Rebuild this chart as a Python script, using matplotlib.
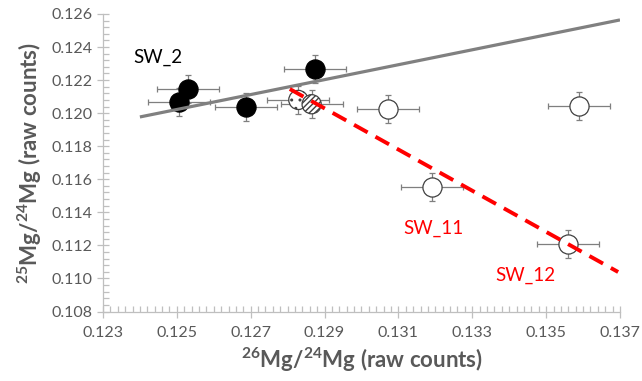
import matplotlib
matplotlib.use("Agg")
import matplotlib.pyplot as plt
from matplotlib.ticker import FixedLocator, MultipleLocator

plt.rcParams["font.family"] = ["Lato", "DejaVu Sans"]
plt.rcParams["mathtext.default"] = "regular"

# Filled samples (SW_2 group)
filled_x = [0.12506, 0.12529, 0.12686, 0.12874]
filled_y = [0.12068, 0.12146, 0.12039, 0.12265]

# Open samples
open_x = [0.13073, 0.13590, 0.13190, 0.13559]
open_y = [0.12023, 0.12043, 0.11551, 0.11208]

# Dotted and hatched samples
dotted_x = [0.12829]
dotted_y = [0.12080]
hatched_x = [0.12865]
hatched_y = [0.12054]

# Uncertainties
x_err = 0.00084
y_err = 0.00085

# Mass-fractionation line and mixing trend
frac_x = [0.12400, 0.13700]
frac_y = [0.11977, 0.12564]
mix_x = [0.12806, 0.13695]
mix_y = [0.12146, 0.11039]

# Sample labels
labels = ["SW_2", "SW_11", "SW_12"]
label_x = [0.12381, 0.13194, 0.13443]
label_y = [0.12340, 0.11305, 0.11021]
label_colors = ["black", "#ff0000", "#ff0000"]
label_ha = ["left", "center", "center"]

# Axis ticks
x_ticks = [0.123, 0.125, 0.127, 0.129, 0.131, 0.133, 0.135, 0.137]
x_ticklabels = ["0.123", "0.125", "0.127", "0.129", "0.131", "0.133", "0.135", "0.137"]
y_ticks = [0.108, 0.110, 0.112, 0.114, 0.116, 0.118, 0.120, 0.122, 0.124, 0.126]
y_ticklabels = ["0.108", "0.110", "0.112", "0.114", "0.116", "0.118", "0.120",
                "0.122", "0.124", "0.126"]

fig = plt.figure(figsize=(6.42, 3.81), dpi=100)
ax = fig.add_axes([0.1604, 0.1824, 0.8053, 0.7809])

err_kw = dict(fmt="none", ecolor="#7f7f7f", elinewidth=0.9, capsize=2.5,
              capthick=0.9, zorder=2)
all_x = filled_x + open_x + dotted_x + hatched_x
all_y = filled_y + open_y + dotted_y + hatched_y
ax.errorbar(all_x, all_y, xerr=x_err, yerr=y_err, **err_kw)

msize = 190
ax.scatter(open_x, open_y, s=msize, facecolor="white", edgecolor="#404040",
           linewidth=0.9, zorder=3)
ax.scatter(dotted_x, dotted_y, s=msize, facecolor="white", edgecolor="#404040",
           linewidth=0.9, hatch="..", zorder=3)
ax.scatter(hatched_x, hatched_y, s=msize, facecolor="white", edgecolor="#404040",
           linewidth=0.9, hatch="//////", zorder=3)
ax.scatter(filled_x, filled_y, s=msize, facecolor="black", edgecolor="black",
           linewidth=0.9, zorder=3)

ax.plot(frac_x, frac_y, color="#808080", lw=2.3, solid_capstyle="butt", zorder=4)
ax.plot(mix_x, mix_y, color="#ff0000", lw=2.8, dashes=(4.0, 2.3), zorder=4)

for t, x, y, c, ha in zip(labels, label_x, label_y, label_colors, label_ha):
    ax.text(x, y, t, color=c, fontsize=13.5, ha=ha, va="center", zorder=5)

ax.set_xlim(0.123, 0.137)
ax.set_ylim(0.108, 0.126)
ax.xaxis.set_major_locator(FixedLocator(x_ticks))
ax.set_xticklabels(x_ticklabels)
ax.xaxis.set_minor_locator(MultipleLocator(0.0002))
ax.yaxis.set_major_locator(FixedLocator(y_ticks))
ax.set_yticklabels(y_ticklabels)
ax.yaxis.set_minor_locator(MultipleLocator(0.0004))

for side in ("top", "right"):
    ax.spines[side].set_visible(False)
for side in ("left", "bottom"):
    ax.spines[side].set_color("#bfbfbf")
    ax.spines[side].set_linewidth(0.9)

ax.tick_params(which="major", direction="inout", length=9, width=0.9,
               color="#bfbfbf", labelcolor="#595959", labelsize=11.5, pad=3)
ax.tick_params(axis="x", which="major", pad=6)
ax.tick_params(which="minor", direction="in", length=4, width=0.9,
               color="#bfbfbf")

ax.set_xlabel("$^{26}$Mg/$^{24}$Mg (raw counts)", fontsize=16, fontweight="bold",
              color="#595959", labelpad=4)
ax.set_ylabel("$^{25}$Mg/$^{24}$Mg (raw counts)", fontsize=16, fontweight="bold",
              color="#595959", labelpad=5)

fig.savefig("out.png", dpi=100)
